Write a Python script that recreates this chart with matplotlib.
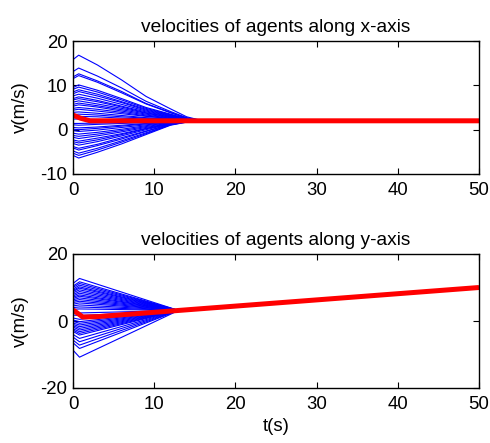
import numpy as np
import matplotlib
matplotlib.use("Agg")
import matplotlib.pyplot as plt

plt.rcParams['font.family'] = ['Liberation Sans', 'DejaVu Sans']
plt.rcParams['axes.unicode_minus'] = False

# ---- velocities along x ----
# sample times for every follower agent
x_t = [0.0, 0.7, 3.0, 6.0, 9.0, 12.0, 14.0, 16.0, 50.0]
# per-agent velocities at those times
x_start = [15.8, 13.1, 11.9, 11.5, 9.5, 9.1, 8.5, 8.1, 7.6, 7.0, 6.7, 6.2, 5.7, 5.3,
           4.8, 4.4, 3.9, 3.4, 2.9, 2.4, 1.4, 1.1, 0.5, 0.1, -0.2, -0.8, -1.3, -1.7,
           -2.3, -2.7, -3.1, -3.8, -4.1, -4.8, -5.3, -5.8]
x_peak = [16.8, 13.9, 12.6, 12.2, 10.1, 9.6, 9.0, 8.6, 8.0, 7.4, 7.0, 6.5, 6.0, 5.6,
          5.0, 4.6, 4.0, 3.5, 3.0, 2.4, 1.4, 1.0, 0.4, 0.0, -0.4, -1.0, -1.5, -2.0,
          -2.6, -3.0, -3.5, -4.2, -4.6, -5.3, -5.8, -6.4]
x_t3 = [14.6, 12.1, 11.0, 10.7, 8.9, 8.5, 8.0, 7.6, 7.1, 6.6, 6.3, 5.8, 5.4, 5.1,
        4.6, 4.2, 3.7, 3.3, 2.9, 2.3, 1.5, 1.2, 0.6, 0.3, -0.1, -0.6, -1.0, -1.4,
        -1.9, -2.3, -2.7, -3.3, -3.6, -4.2, -4.6, -5.1]
x_t6 = [11.2, 9.4, 8.6, 8.3, 7.0, 6.7, 6.3, 6.1, 5.7, 5.3, 5.1, 4.8, 4.5, 4.2,
        3.9, 3.6, 3.2, 2.9, 2.6, 2.2, 1.6, 1.4, 1.0, 0.8, 0.5, 0.1, -0.2, -0.5,
        -0.9, -1.1, -1.4, -1.8, -2.1, -2.5, -2.8, -3.2]
x_t9 = [7.5, 6.4, 5.9, 5.8, 5.0, 4.8, 4.6, 4.4, 4.2, 4.0, 3.8, 3.7, 3.5, 3.3,
        3.1, 3.0, 2.7, 2.6, 2.4, 2.1, 1.8, 1.6, 1.4, 1.3, 1.1, 0.9, 0.7, 0.5,
        0.3, 0.2, 0.0, -0.3, -0.4, -0.7, -0.9, -1.1]
x_t12 = [4.7, 4.1, 3.9, 3.8, 3.5, 3.4, 3.3, 3.2, 3.1, 3.0, 2.9, 2.8, 2.7, 2.6,
         2.5, 2.5, 2.4, 2.3, 2.2, 2.1, 1.9, 1.8, 1.7, 1.7, 1.6, 1.6, 1.5, 1.4,
         1.4, 1.3, 1.3, 1.2, 1.2, 1.1, 1.1, 1.0]
x_t14 = [2.9, 2.7, 2.6, 2.6, 2.5, 2.4, 2.4, 2.4, 2.4, 2.3, 2.3, 2.3, 2.2, 2.2,
         2.2, 2.2, 2.1, 2.1, 2.1, 2.0, 2.0, 2.0, 1.9, 1.9, 1.9, 1.9, 1.9, 1.8,
         1.8, 1.8, 1.8, 1.8, 1.8, 1.8, 1.7, 1.7]
x_consensus = 2.0

# leader velocity along x
x_lead_t = [0.0, 0.9, 2.1, 50.0]
x_lead_v = [3.3, 2.6, 2.0, 2.0]

# ---- velocities along y ----
y_t = [0.0, 0.8, 13.0]
y_start = [11.2, 10.4, 10.0, 9.5, 9.1, 8.8, 8.4, 7.9, 7.5, 7.1, 6.7, 6.3, 5.9, 5.5,
           5.0, 4.5, 4.0, 3.5, 2.5, 1.8, 0.9, 0.3, -0.1, -0.6, -1.0, -1.4, -1.8,
           -2.3, -2.7, -3.1, -4.0, -4.8, -5.7, -6.5, -8.7]
y_peak = [12.7, 11.7, 11.2, 10.7, 10.2, 9.8, 9.3, 8.8, 8.3, 7.8, 7.4, 6.9, 6.4, 5.9,
          5.4, 4.8, 4.2, 3.6, 2.4, 1.6, 0.5, -0.2, -0.7, -1.2, -1.7, -2.2, -2.7,
          -3.2, -3.7, -4.2, -5.2, -6.2, -7.2, -8.2, -10.8]

# leader velocity along y
y_lead_t = [0.0, 1.2, 3.0, 50.0]
y_lead_v = [3.3, 1.2, 1.3, 10.0]

W, H = 490, 443
fig = plt.figure(figsize=(W / 100, H / 100), dpi=100)
ax1 = fig.add_axes([73 / W, 1 - 174 / H, 406 / W, 133 / H])
ax2 = fig.add_axes([73 / W, 1 - 388 / H, 406 / W, 134 / H])

blue = (0, 0, 1)
red = (1, 0, 0)

x_rows = zip(x_start, x_peak, x_t3, x_t6, x_t9, x_t12, x_t14)
for row in x_rows:
    ax1.plot(x_t, list(row) + [x_consensus, x_consensus], color=blue, lw=0.8)
ax1.plot(x_lead_t, x_lead_v, color=red, lw=3.6, solid_capstyle='butt')

y_meet = float(np.interp(y_t[-1], y_lead_t, y_lead_v))
for s, p in zip(y_start, y_peak):
    ax2.plot(y_t + [y_lead_t[-1]], [s, p, y_meet, y_lead_v[-1]], color=blue, lw=0.8)
ax2.plot(y_lead_t, y_lead_v, color=red, lw=3.6, solid_capstyle='butt')

ax1.set_xlim(0, 50)
ax1.set_ylim(-10, 20)
ax1.set_yticks([-10, 0, 10, 20])
ax2.set_xlim(0, 50)
ax2.set_ylim(-20, 20)
ax2.set_yticks([-20, 0, 20])

fs = 13.4
ax1.set_title('velocities of agents along x-axis', fontsize=13.8, pad=6.5)
ax2.set_title('velocities of agents along y-axis', fontsize=13.8, pad=6.5)
ax1.set_ylabel('v(m/s)', fontsize=fs, labelpad=8)
ax2.set_ylabel('v(m/s)', fontsize=fs, labelpad=8)
ax2.set_xlabel('t(s)', fontsize=fs, labelpad=4)

for ax in (ax1, ax2):
    ax.set_xticks([0, 10, 20, 30, 40, 50])
    ax.tick_params(direction='in', top=True, right=True, length=4, width=0.8,
                   labelsize=fs, pad=4)
    ax.tick_params(axis='x', pad=5.5)
    for sp in ax.spines.values():
        sp.set_linewidth(1.0)

fig.savefig('out.png', dpi=100)
